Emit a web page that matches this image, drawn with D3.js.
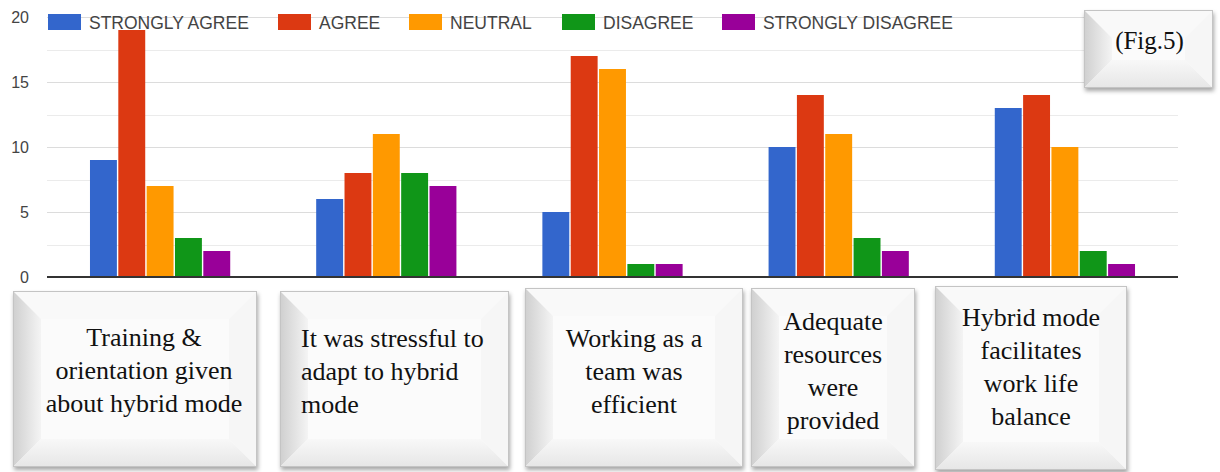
<!DOCTYPE html>
<html>
<head>
<meta charset="utf-8">
<script src="https://cdn.jsdelivr.net/npm/d3@7"></script>
<style>
  body { margin: 0; background: #fff; }
  svg { display: block; }
</style>
</head>
<body>
<div class="chart"></div>
<script>
var width = 1220,
    height = 472;

// data
var categories = ["Training", "Stressful", "Teamwork", "Resources", "WorkLife"];
var seriesNames = ["STRONGLY AGREE", "AGREE", "NEUTRAL", "DISAGREE", "STRONGLY DISAGREE"];
var stronglyAgree    = [9, 6, 5, 10, 13];
var agree            = [19, 8, 17, 14, 14];
var neutral          = [7, 11, 16, 11, 10];
var disagree         = [3, 8, 1, 3, 2];
var stronglyDisagree = [2, 7, 1, 2, 1];
var yTicks = [0, 5, 10, 15, 20];
var categoryLines = [
    ["Training &", "orientation given", "about hybrid mode"],
    ["It was stressful to", "adapt to hybrid", "mode"],
    ["Working as a", "team was", "efficient"],
    ["Adequate", "resources", "were", "provided"],
    ["Hybrid mode", "facilitates", "work life", "balance"]
];

var colors = ['#3366cc', '#dc3912', '#ff9900', '#109618', '#990099'];
var seriesValues = [stronglyAgree, agree, neutral, disagree, stronglyDisagree];

// label boxes under the chart (layout only)
var boxes = [
    {x: 13,  y: 291, w: 244, h: 176, anchor: "middle", firstY: 346, dx: 9},
    {x: 280, y: 291, w: 229, h: 176, anchor: "start",  firstY: 347, dx: 0},
    {x: 525, y: 288, w: 218, h: 179, anchor: "middle", firstY: 347, dx: 0},
    {x: 751, y: 288, w: 164, h: 179, anchor: "middle", firstY: 330, dx: 0},
    {x: 935, y: 286, w: 192, h: 184, anchor: "middle", firstY: 326, dx: 0}
];

var svg = d3.select(".chart").append("svg")
    .attr("width", width)
    .attr("height", height);

var defs = svg.append("defs");
var shadow = defs.append("filter").attr("id", "shadow")
    .attr("x", "-10%").attr("y", "-10%").attr("width", "125%").attr("height", "125%");
shadow.append("feDropShadow")
    .attr("dx", 1).attr("dy", 3).attr("stdDeviation", 2)
    .attr("flood-color", "#000").attr("flood-opacity", 0.35);

var gLeft = defs.append("linearGradient").attr("id", "bevelLeft")
    .attr("x1", "0%").attr("x2", "100%").attr("y1", "0%").attr("y2", "0%");
gLeft.append("stop").attr("offset", "0%").attr("stop-color", "#cfcfcf");
gLeft.append("stop").attr("offset", "100%").attr("stop-color", "#f4f4f4");

var gBottom = defs.append("linearGradient").attr("id", "bevelBottom")
    .attr("x1", "0%").attr("x2", "0%").attr("y1", "100%").attr("y2", "0%");
gBottom.append("stop").attr("offset", "0%").attr("stop-color", "#e6e6e6");
gBottom.append("stop").attr("offset", "100%").attr("stop-color", "#f8f8f8");

var plotLeft = 47, plotRight = 1178;

var y = d3.scaleLinear()
    .domain([0, 20])
    .range([277, 17]);

var x0 = d3.scaleBand()
    .domain(categories)
    .range([plotLeft, plotRight])
    .paddingInner(0.38)
    .paddingOuter(0.19);

var x1 = d3.scaleBand()
    .domain(d3.range(seriesNames.length))
    .range([0, x0.bandwidth()])
    .paddingInner(0.05);

// gridlines, major + minor every 2.5
var grid = svg.append("g");
grid.selectAll("line")
    .data(d3.range(0, 20.01, 2.5))
    .enter().append("line")
    .attr("x1", plotLeft)
    .attr("x2", plotRight)
    .attr("y1", function(d) { return Math.round(y(d)) + 0.5; })
    .attr("y2", function(d) { return Math.round(y(d)) + 0.5; })
    .attr("stroke", function(d) { return d % 5 === 0 ? "#dcdcdc" : "#ebebeb"; })
    .attr("stroke-width", 1.2);

var yAxis = svg.append("g")
    .attr("transform", "translate(" + (plotLeft - 18) + ",0)")
    .call(d3.axisLeft(y).tickValues(yTicks).tickSize(0).tickPadding(0));
yAxis.select(".domain").remove();
yAxis.selectAll("text")
    .attr("font-family", "Arial, 'Liberation Sans', sans-serif")
    .attr("font-size", "16px")
    .attr("fill", "#444");

// bars
var groups = svg.append("g").selectAll("g")
    .data(categories)
    .enter().append("g")
    .attr("transform", function(d) { return "translate(" + x0(d) + ",0)"; });

groups.selectAll("rect")
    .data(function(d, ci) {
        return seriesValues.map(function(vals, si) { return {s: si, v: vals[ci]}; });
    })
    .enter().append("rect")
    .attr("x", function(d) { return x1(d.s); })
    .attr("width", x1.bandwidth())
    .attr("y", function(d) { return y(d.v); })
    .attr("height", function(d) { return y(0) - y(d.v); })
    .attr("fill", function(d) { return colors[d.s]; });

// baseline
svg.append("line")
    .attr("x1", plotLeft).attr("x2", plotRight)
    .attr("y1", y(0)).attr("y2", y(0))
    .attr("stroke", "#333")
    .attr("stroke-width", 2);

// legend
var legendX = [48, 278, 409, 562, 722];
var legend = svg.append("g").selectAll("g")
    .data(seriesNames)
    .enter().append("g")
    .attr("transform", function(d, i) { return "translate(" + legendX[i] + ",14)"; });
legend.append("rect")
    .attr("width", 33).attr("height", 16)
    .attr("fill", function(d, i) { return colors[i]; });
legend.append("text")
    .attr("x", 41).attr("y", 15)
    .attr("font-family", "Arial, 'Liberation Sans', sans-serif")
    .attr("font-size", "17.5px")
    .attr("fill", "#444")
    .text(function(d) { return d; });

// beveled boxes
function bevelBox(parent, b) {
    var g = parent.append("g");
    var x = b.x, yy = b.y, w = b.w, h = b.h, ins = 28;
    g.append("rect")
        .attr("x", x).attr("y", yy).attr("width", w).attr("height", h)
        .attr("fill", "#fbfbfb")
        .attr("filter", "url(#shadow)");
    // top
    g.append("polygon")
        .attr("points", [[x, yy], [x + w, yy], [x + w - ins, yy + ins], [x + ins, yy + ins]].join(" "))
        .attr("fill", "#f9f9f9");
    // left
    g.append("polygon")
        .attr("points", [[x, yy], [x + ins, yy + ins], [x + ins, yy + h - ins], [x, yy + h]].join(" "))
        .attr("fill", "url(#bevelLeft)");
    // bottom
    g.append("polygon")
        .attr("points", [[x, yy + h], [x + ins, yy + h - ins], [x + w - ins, yy + h - ins], [x + w, yy + h]].join(" "))
        .attr("fill", "url(#bevelBottom)");
    // right
    g.append("polygon")
        .attr("points", [[x + w, yy], [x + w, yy + h], [x + w - ins, yy + h - ins], [x + w - ins, yy + ins]].join(" "))
        .attr("fill", "#f6f6f6");
    g.append("rect")
        .attr("x", x + 0.5).attr("y", yy + 0.5).attr("width", w - 1).attr("height", h - 1)
        .attr("fill", "none")
        .attr("stroke", "#c4c4c4");
    return g;
}

var boxLayer = svg.append("g");
boxes.forEach(function(b, i) {
    var g = bevelBox(boxLayer, b);
    var tx = (b.anchor === "middle" ? b.x + b.w / 2 : b.x + 21) + b.dx;
    g.append("text")
        .attr("text-anchor", b.anchor)
        .attr("font-family", "'Times New Roman', 'Liberation Serif', serif")
        .attr("font-size", "26px")
        .attr("fill", "#111")
        .selectAll("tspan")
        .data(categoryLines[i])
        .enter().append("tspan")
        .attr("x", tx)
        .attr("y", function(d, j) { return b.firstY + j * 33; })
        .text(function(d) { return d; });
});

// figure tag
var fig = bevelBox(svg.append("g"), {x: 1084, y: 10, w: 129, h: 78});
fig.append("text")
    .attr("x", 1084 + 129 / 2 + 1)
    .attr("y", 49)
    .attr("text-anchor", "middle")
    .attr("font-family", "'Times New Roman', 'Liberation Serif', serif")
    .attr("font-size", "25px")
    .attr("fill", "#111")
    .text("(Fig.5)");
</script>
</body>
</html>
